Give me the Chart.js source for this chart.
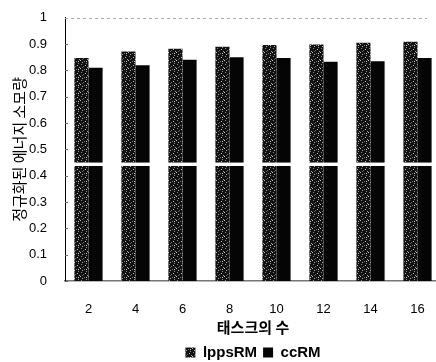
<!DOCTYPE html>
<html><head><meta charset="utf-8">
<script src="https://cdn.jsdelivr.net/npm/chart.js@4/dist/chart.umd.min.js"></script>
<style>html,body{margin:0;padding:0;background:#fff;overflow:hidden;}#wrap{width:436px;height:362px;overflow:hidden;position:relative;}#c{display:block;}</style>
</head><body><div id="wrap"><canvas id="c" width="444" height="370" style="width:444px;height:370px"></canvas></div>
<script>
const categories = ['2','4','6','8','10','12','14','16'];
const seriesNames = ['lppsRM','ccRM'];
const lppsRM = [0.847, 0.872, 0.882, 0.890, 0.897, 0.899, 0.905, 0.909];
const ccRM   = [0.810, 0.820, 0.841, 0.850, 0.847, 0.833, 0.835, 0.847];
const yTickValues = [0,0.1,0.2,0.3,0.4,0.5,0.6,0.7,0.8,0.9,1];
const yTickLabels = ['0','0.1','0.2','0.3','0.4','0.5','0.6','0.7','0.8','0.9','1'];
const xTitle = '태스크의 수';
const yTitle = '정규화된 에너지 소모량';
const breakLow = 0.437, breakHigh = 0.450;

function makePattern(ctx){
  const c=document.createElement('canvas'); c.width=8; c.height=8;
  const x=c.getContext('2d');
  x.fillStyle='#111'; x.fillRect(0,0,8,8);
  const pts=[[1,0,'#8a8a8a'],[5,1,'#c0c0c0'],[3,2,'#6a6a6a'],[7,3,'#a0a0a0'],[0,4,'#c8c8c8'],[4,5,'#7c7c7c'],[2,6,'#b4b4b4'],[6,7,'#909090'],[6,5,'#d0d0d0'],[2,3,'#5e5e5e']];
  pts.forEach(p=>{x.fillStyle=p[2]; x.fillRect(p[0],p[1],1,1);});
  return ctx.createPattern(c,'repeat');
}
const canvas=document.getElementById('c');
const ctx0=canvas.getContext('2d');
const pat=makePattern(ctx0);

const deco={
  id:'deco',
  afterDatasetsDraw(chart){
    const {ctx, chartArea:a, scales:{y}}=chart;
    const y1=y.getPixelForValue(breakHigh), y2=y.getPixelForValue(breakLow);
    ctx.save();
    ctx.fillStyle='#fff';
    ctx.fillRect(a.left+1, y1, a.right-a.left, y2-y1);
    ctx.strokeStyle='#666'; ctx.lineWidth=1;
    yTickValues.forEach(v=>{
      const py=Math.round(y.getPixelForValue(v))+0.5;
      ctx.beginPath(); ctx.moveTo(a.left, py); ctx.lineTo(a.left+3, py); ctx.stroke();
    });
    const ty=Math.round(y.getPixelForValue(1))+0.5;
    ctx.strokeStyle='#aaa'; ctx.setLineDash([3,3]);
    ctx.beginPath(); ctx.moveTo(a.left, ty); ctx.lineTo(a.right-14, ty); ctx.stroke();
    ctx.restore();
  }
};

new Chart(canvas,{
  type:'bar',
  data:{labels:categories,datasets:[
    {label:seriesNames[0],data:lppsRM,backgroundColor:pat,borderWidth:0},
    {label:seriesNames[1],data:ccRM,backgroundColor:'#050505',borderWidth:0}
  ]},
  options:{
    responsive:false,animation:false,
    layout:{padding:{top:12,right:3,left:0,bottom:0}},
    datasets:{bar:{categoryPercentage:0.6,barPercentage:1.0}},
    plugins:{
      legend:{position:'bottom',fullSize:false,labels:{boxWidth:10,boxHeight:10,padding:6,color:'#000',font:{family:'"Liberation Sans", Arial, sans-serif',size:15,weight:'bold'}}},
      tooltip:{enabled:false}
    },
    scales:{
      x:{
        grid:{display:false},
        border:{display:true,color:'#777',width:1.5},
        ticks:{padding:13,color:'#000',font:{family:'"Liberation Sans", Arial, sans-serif',size:13}},
        title:{display:true,text:xTitle,color:'#000',padding:{top:0,bottom:3},font:{family:'"Noto Sans CJK KR", sans-serif',size:15,weight:'bold'}},
        afterFit(s){s.height=58;}
      },
      y:{
        min:0,max:1,
        grid:{display:false},
        border:{display:true,color:'#000',width:1},
        afterBuildTicks(s){s.ticks=yTickValues.map(v=>({value:v}));},
        ticks:{padding:10,color:'#000',font:{family:'"Liberation Sans", Arial, sans-serif',size:13},callback:(v,i)=>yTickLabels[i]},
        title:{display:true,text:yTitle,color:'#000',padding:{top:10,bottom:0},font:{family:'"Noto Sans CJK KR", sans-serif',size:15}},
        afterFit(s){s.width=65;}
      }
    }
  },
  plugins:[deco]
});
</script></body></html>
